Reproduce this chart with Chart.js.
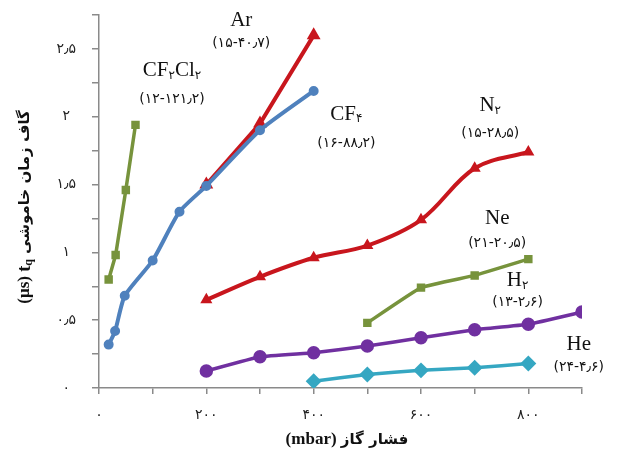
<!DOCTYPE html>
<html>
<head>
<meta charset="utf-8">
<script src="https://cdn.jsdelivr.net/npm/chart.js@4.4.0/dist/chart.umd.min.js"></script>
<style>
  html, body { margin: 0; padding: 0; background: #fff; }
  #wrap { width: 619px; height: 455px; position: relative; }
</style>
</head>
<body>
<div id="wrap"><canvas id="myChart"></canvas></div>
<script>
// gas pressure (mbar) and quench gap time t_q (µs)
const cf2cl2P = [18, 31, 50, 68];
const cf2cl2T = [0.80, 0.98, 1.46, 1.94];

const cf4P = [18, 30, 48, 100, 150, 200, 300, 400];
const cf4T = [0.32, 0.42, 0.68, 0.94, 1.30, 1.49, 1.90, 2.19];

const arP = [200, 300, 400];
const arT = [1.50, 1.95, 2.60];

const n2P = [200, 300, 400, 500, 600, 700, 800];
const n2T = [0.65, 0.82, 0.96, 1.05, 1.24, 1.62, 1.74];

const neP = [500, 600, 700, 800];
const neT = [0.48, 0.74, 0.83, 0.95];

const h2P = [200, 300, 400, 500, 600, 700, 800, 900];
const h2T = [0.125, 0.23, 0.26, 0.31, 0.37, 0.43, 0.47, 0.56];

const heP = [400, 500, 600, 700, 800];
const heT = [0.05, 0.10, 0.13, 0.15, 0.18];

const xTicks = [0, 200, 400, 600, 800];
const yTicks = [0, 0.5, 1, 1.5, 2, 2.5];

// gas name + (parameter range) annotations
const gasNames = [['Ar'], ['CF', '۲', 'Cl', '۲'], ['CF', '۴'], ['N', '۲'], ['Ne'], ['H', '۲'], ['He']];
const gasRanges = ['(۱۵-۴۰٫۷)', '(۱۲-۱۲۱٫۲)', '(۱۶-۸۸٫۲)', '(۱۵-۲۸٫۵)', '(۲۱-۲۰٫۵)', '(۱۳-۲٫۶)', '(۲۴-۴٫۶)'];
// where each annotation sits, in data units [x, y of name, y of range]
const gasSpots = [[265, 2.71, 2.54], [136, 2.34, 2.13], [461, 2.02, 1.80], [729, 2.08, 1.88],
                  [742, 1.25, 1.07], [780, 0.79, 0.63], [894, 0.32, 0.15]];

const fa = v => String(v).replace(/\d/g, d => '۰۱۲۳۴۵۶۷۸۹'[d]).replace('.', '٫');
const pts = (xs, ys) => xs.map((x, i) => ({x: x, y: ys[i]}));

const RED = '#C8161D', BLUE = '#4F81BD', GREEN = '#77933C', PURPLE = '#7030A0', CYAN = '#35A7C2';

function series(label, xs, ys, color, style, radius, width, tension) {
    return {
        label: label,
        data: pts(xs, ys),
        borderColor: color,
        backgroundColor: color,
        pointBackgroundColor: color,
        pointBorderColor: color,
        pointStyle: style,
        pointRadius: radius,
        borderWidth: width,
        tension: tension
    };
}

const labelsPlugin = {
    id: 'gasLabels',
    afterDraw(chart) {
        const ctx = chart.ctx;
        const xs = chart.scales.x, ys = chart.scales.y;
        ctx.save();
        ctx.fillStyle = '#111';
        ctx.textBaseline = 'middle';

        gasNames.forEach((parts, i) => {
            const cx = xs.getPixelForValue(gasSpots[i][0]);
            const cy = ys.getPixelForValue(gasSpots[i][1]);
            const fonts = parts.map((p, j) => j % 2 ? '12px "DejaVu Sans"' : '21px "Liberation Serif"');
            let total = 0;
            const widths = parts.map((p, j) => { ctx.font = fonts[j]; const w = ctx.measureText(p).width; total += w; return w; });
            let x = cx - total / 2;
            ctx.textAlign = 'left';
            parts.forEach((p, j) => {
                ctx.font = fonts[j];
                ctx.fillText(p, x, cy + (j % 2 ? 5 : 0));
                x += widths[j];
            });

            ctx.font = '14px "DejaVu Sans"';
            ctx.textAlign = 'center';
            ctx.fillText(gasRanges[i], cx, ys.getPixelForValue(gasSpots[i][2]));
        });

        // x axis title
        const xParts = [['(mbar) ', 'bold 17px "Liberation Serif"'], ['فشار گاز', 'bold 15px "DejaVu Sans"']];
        drawPieces(ctx, xParts, 347, 440);

        // y axis title, rotated
        ctx.translate(25, 207);
        ctx.rotate(-Math.PI / 2);
        const yParts = [['(µs) ', 'bold 17px "Liberation Serif"'], ['t', 'bold 18px "Liberation Serif"'],
                        ['q', 'bold 12px "Liberation Serif"', 4], [' گاف زمان خاموشی', 'bold 15px "DejaVu Sans"']];
        drawPieces(ctx, yParts, 0, 0);
        ctx.restore();
    }
};

function drawPieces(ctx, parts, cx, cy) {
    let total = 0;
    const widths = parts.map(p => { ctx.font = p[1]; const w = ctx.measureText(p[0]).width; total += w; return w; });
    let x = cx - total / 2;
    ctx.textAlign = 'left';
    ctx.textBaseline = 'middle';
    parts.forEach((p, i) => {
        ctx.font = p[1];
        ctx.fillText(p[0], x, cy + (p[2] || 0));
        x += widths[i];
    });
}

const ctx = document.getElementById('myChart');
const myChart = new Chart(ctx, {
    type: 'line',
    data: {
        datasets: [
            series('CF2Cl2', cf2cl2P, cf2cl2T, GREEN, 'rect', 3.5, 3.5, 0),
            series('CF4', cf4P, cf4T, BLUE, 'circle', 3, 4, 0.2),
            series('Ar', arP, arT, RED, 'triangle', 4, 4, 0),
            series('N2', n2P, n2T, RED, 'triangle', 3, 4, 0.35),
            series('Ne', neP, neT, GREEN, 'rect', 3.5, 3.5, 0.1),
            series('H2', h2P, h2T, PURPLE, 'circle', 5, 3.5, 0.1),
            series('He', heP, heT, CYAN, 'rectRot', 5.5, 3.5, 0.1)
        ]
    },
    options: {
        responsive: true,
        maintainAspectRatio: false,
        animation: false,
        layout: { padding: { top: 15, right: 37, left: 0, bottom: 0 } },
        plugins: {
            legend: { display: false },
            tooltip: { enabled: false }
        },
        scales: {
            x: {
                type: 'linear',
                min: 0,
                max: 900,
                border: { display: true, color: '#8a8a8a', width: 1.5 },
                grid: { drawOnChartArea: false, drawTicks: true, tickLength: 6, color: '#8a8a8a', lineWidth: 1.5 },
                ticks: {
                    stepSize: 100,
                    autoSkip: false,
                    maxRotation: 0,
                    padding: 13,
                    color: '#222',
                    font: { family: '"DejaVu Sans"', size: 14 },
                    callback: v => xTicks.includes(v) ? fa(v) : ''
                },
                afterFit: s => { s.height = 67; s.paddingLeft = 0; s.paddingRight = 0; }
            },
            y: {
                type: 'linear',
                min: 0,
                max: 2.75,
                border: { display: true, color: '#8a8a8a', width: 1.5 },
                grid: { drawOnChartArea: false, drawTicks: true, tickLength: 7, color: '#8a8a8a', lineWidth: 1.5 },
                ticks: {
                    stepSize: 0.25,
                    autoSkip: false,
                    padding: 16,
                    crossAlign: 'center',
                    color: '#222',
                    font: { family: '"DejaVu Sans"', size: 14 },
                    callback: v => yTicks.includes(v) ? fa(v) : ''
                },
                afterFit: s => { s.width = 99; s.paddingTop = 0; s.paddingBottom = 0; }
            }
        }
    },
    plugins: [labelsPlugin]
});
</script>
</body>
</html>
